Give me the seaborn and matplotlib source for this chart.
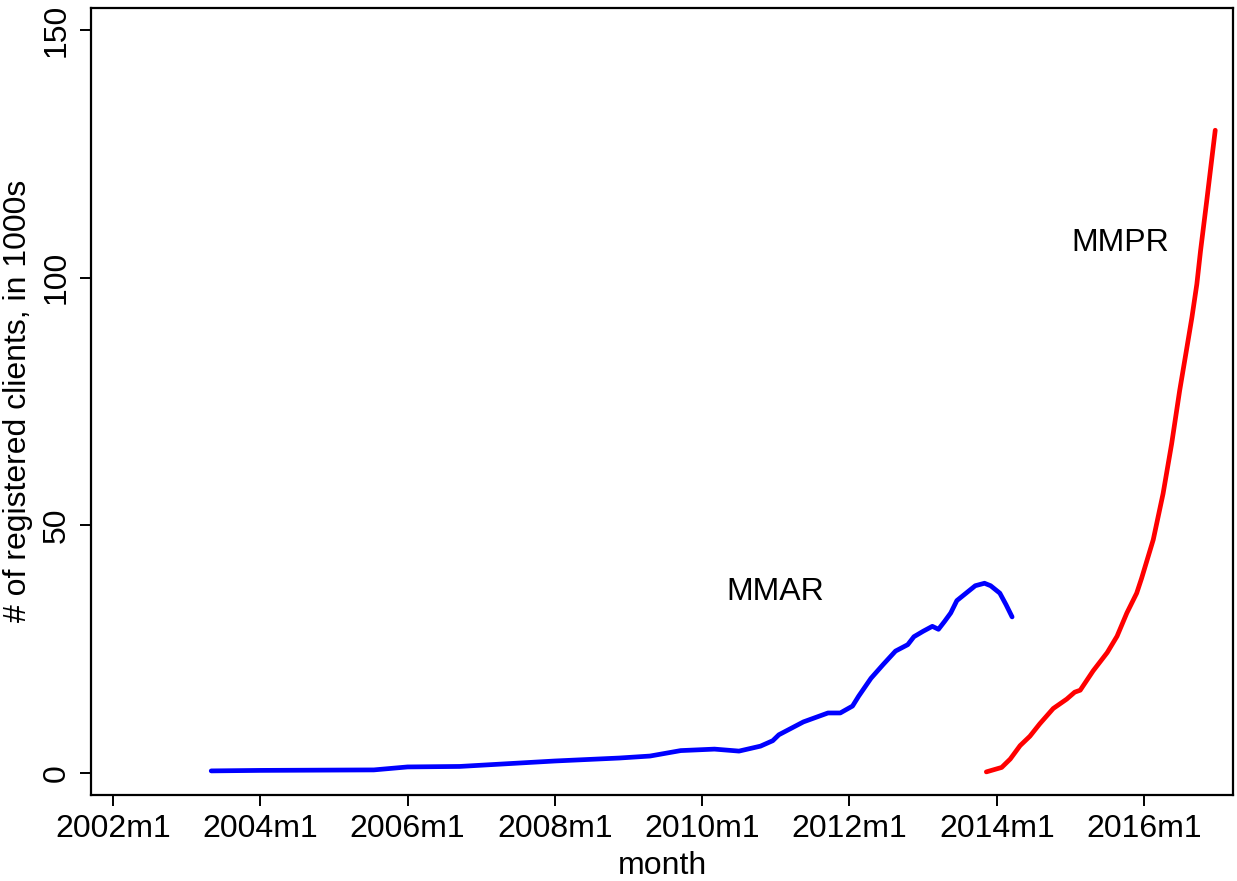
import numpy as np
import pandas as pd
import matplotlib
matplotlib.use("Agg")
import matplotlib.pyplot as plt
import seaborn as sns

# months since 2002m1 (fractional positions)
mmar_month = [16, 24, 42.5, 48, 56.5, 72, 82.5, 87.5, 92.5, 98, 102, 105.5, 107.5,
              108.5, 110.5, 112.5, 114.5, 116.5, 118.5, 120.5, 121.5, 123.5, 125.5,
              127.5, 129.5, 130.5, 132, 133.5, 134.5, 135.5, 136.5, 137.5, 139,
              140.5, 142, 143, 144.5, 145.5, 146.5]
mmar_value = [0.4, 0.5, 0.6, 1.2, 1.3, 2.4, 3.0, 3.4, 4.5, 4.8, 4.4, 5.4, 6.5,
              7.7, 9.0, 10.3, 11.2, 12.1, 12.1, 13.5, 15.5, 19.1, 21.9,
              24.6, 25.9, 27.5, 28.6, 29.6, 29.0, 30.6, 32.3, 34.8, 36.3,
              37.8, 38.3, 37.8, 36.3, 34.0, 31.5]

mmpr_month = [142.3, 144.8, 146.2, 147.8, 149.4, 151, 153.2, 155.4, 156.7, 157.6,
              159.7, 162, 163.6, 165.2, 166.8, 167.6, 169.5, 171.1, 172.5, 173.8,
              174.9, 175.8, 176.6, 177.2, 178.2, 179.6]
mmpr_value = [0.2, 1.1, 2.8, 5.5, 7.4, 9.9, 13.0, 14.9, 16.3, 16.7,
              20.6, 24.3, 27.6, 32.3, 36.3, 39.3, 47.1, 56.4, 66.5, 77.2,
              85.3, 92.0, 98.7, 105.4, 115.4, 129.8]

x_ticks = [0, 24, 48, 72, 96, 120, 144, 168]
x_tick_labels = ["2002m1", "2004m1", "2006m1", "2008m1", "2010m1", "2012m1", "2014m1", "2016m1"]
y_ticks = [0, 50, 100, 150]

sns.set_style("ticks")
plt.rcParams['font.family'] = ['Liberation Sans', 'DejaVu Sans']
plt.rcParams['text.color'] = 'black'
plt.rcParams['axes.labelcolor'] = 'black'
plt.rcParams['xtick.color'] = 'black'
plt.rcParams['ytick.color'] = 'black'

df = pd.concat([
    pd.DataFrame({"month": mmar_month, "value": mmar_value, "program": "MMAR"}),
    pd.DataFrame({"month": mmpr_month, "value": mmpr_value, "program": "MMPR"}),
])

fig = plt.figure(figsize=(12.37, 8.81), dpi=100)
ax = fig.add_axes([0.0736, 0.098, 0.9232, 0.893])

sns.lineplot(data=df, x="month", y="value", hue="program",
             palette={"MMAR": "#0000ff", "MMPR": "#ff0000"},
             linewidth=3.4, legend=False, ax=ax, sort=False, estimator=None)

ax.set_xlim(-3.58, 182.5)
ax.set_ylim(-4.4, 154.5)
ax.set_xticks(x_ticks)
ax.set_xticklabels(x_tick_labels)
ax.set_yticks(y_ticks)
ax.set_yticklabels([str(v) for v in y_ticks], rotation=90, va="center")

fs = 23
ax.tick_params(axis="both", labelsize=fs, length=8, width=1.4, direction="out", pad=6,
               color="black", labelcolor="black")
ax.set_xlabel("month", fontsize=fs, labelpad=5, color="black")
ax.set_ylabel("# of registered clients, in 1000s", fontsize=fs, labelpad=6, color="black")

for s in ax.spines.values():
    s.set_visible(True)
    s.set_linewidth(1.6)
    s.set_color("black")

ax.text(107.9, 36.6, "MMAR", fontsize=fs, ha="center", va="center", color="black")
ax.text(164.1, 107.0, "MMPR", fontsize=fs, ha="center", va="center", color="black")

fig.savefig("out.png", dpi=100)
